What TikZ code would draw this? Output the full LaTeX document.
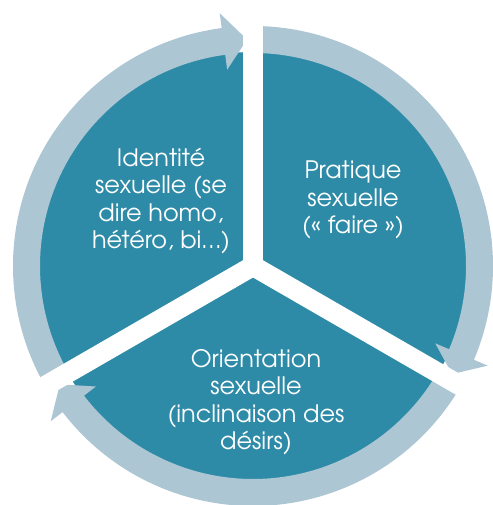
\documentclass[tikz,border=0pt]{standalone}
\usepackage{fontspec}
\setmainfont{texgyreadventor-regular.otf}
\definecolor{tealc}{HTML}{2E8BA7}
\definecolor{ringc}{HTML}{ADC6D3}
\tikzset{
  lbl/.style={text=white, align=center, inner sep=0pt, font=\fontsize{18}{20.6}\selectfont},
  gapline/.style={draw=white, line width=15pt}
}
\newcommand\ringseg[3]{%
  \fill[ringc] (#1:240) arc[start angle=#1, end angle=#2, radius=240]
    -- (#2:255) -- (#3:226.5) -- (#2:198) -- (#2:213)
    arc[start angle=#2, end angle=#1, radius=213] -- cycle;}
\begin{document}
\begin{tikzpicture}[x=0.75pt,y=0.75pt]
\useasboundingbox (-253,-239) rectangle (239,266);
\coordinate (c) at (0,0);
\fill[tealc] (c) circle (214);
\ringseg{210}{97.5}{91.5}
\ringseg{90}{-23}{-28.5}
\ringseg{-30}{-142.5}{-148.5}
\coordinate (g1) at (90:275);
\coordinate (g2) at (-30:275);
\coordinate (g3) at (210:275);
\draw[gapline] (c) -- (g1);
\draw[gapline] (c) -- (g2);
\draw[gapline] (c) -- (g3);
\fill[white] (c) circle (11.5);
\node[lbl] (ident) at (-92,65) {Identité\\sexuelle (se\\dire homo,\\hétéro, bi…)};
\node[lbl] (prat) at (100,66) {Pratique\\sexuelle\\(« faire »)};
\node[lbl] (orient) at (3,-136) {Orientation\\sexuelle\\(inclinaison des\\désirs)};
\end{tikzpicture}
\end{document}
